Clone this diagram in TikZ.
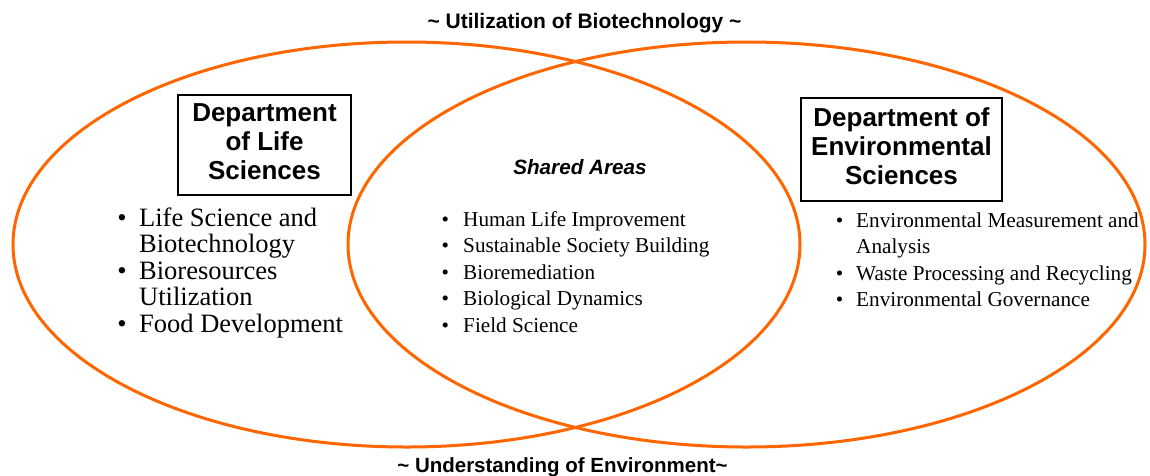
\documentclass[tikz,border=0pt]{standalone}
\usepackage{fontspec}
\setmainfont{Liberation Serif}
\newfontfamily\arialfont{Liberation Sans}
\definecolor{vennorange}{RGB}{255,102,0}
\begin{document}
\begin{tikzpicture}[x=1pt,y=-1pt,
  ring/.style={draw=vennorange,line width=3pt},
  deptbox/.style={draw=black,line width=1.5pt,inner sep=0pt,
    font=\arialfont\bfseries\fontsize{26}{29}\selectfont},
  caption/.style={anchor=base,inner sep=0pt,
    font=\arialfont\bfseries\fontsize{20.5}{24}\selectfont},
  biglist/.style={anchor=base west,inner sep=0pt,
    font=\fontsize{26.5}{26.5}\selectfont},
  smalllist/.style={anchor=base west,inner sep=0pt,
    font=\fontsize{21.2}{26.5}\selectfont}]
\useasboundingbox (0,0) rectangle (1150,475);
\draw[ring] (406.5,244.5) ellipse [x radius=393.5, y radius=202.5];
\draw[ring] (746.5,244.5) ellipse [x radius=398.5, y radius=202.5];

\node[caption,font=\arialfont\bfseries\fontsize{21}{24}\selectfont] (top) at (584.5,28) {\textasciitilde{} Utilization of Biotechnology \textasciitilde};
\node[caption] (bottom) at (562.5,472.5) {\textasciitilde{} Understanding of Environment\textasciitilde};
\node[caption,font=\arialfont\bfseries\itshape\fontsize{20.7}{24}\selectfont] (shared) at (580,174) {Shared Areas};

\node[deptbox,minimum width=173pt,minimum height=100pt] (life) at (264.5,145)
  {\begin{tabular}{@{}c@{}}Department\\of Life\\Sciences\end{tabular}};
\node[deptbox,minimum width=201pt,minimum height=103pt] (env) at (901.5,149.5)
  {\begin{tabular}{@{}c@{}}Department of\\Environmental\\Sciences\end{tabular}};

\node[biglist] (lifelist) at (117.2,226)
  {\begin{tabular}[t]{@{}r@{\hspace{12.5pt}}l@{}}
   \textbullet & Life Science and\\
               & Biotechnology\\
   \textbullet & Bioresources\\
               & Utilization\\
   \textbullet & Food Development
   \end{tabular}};
\node[smalllist] (sharedlist) at (441.3,226)
  {\begin{tabular}[t]{@{}r@{\hspace{14.3pt}}l@{}}
   \textbullet & Human Life Improvement\\
   \textbullet & Sustainable Society Building\\
   \textbullet & Bioremediation\\
   \textbullet & Biological Dynamics\\
   \textbullet & Field Science
   \end{tabular}};
\node[smalllist] (envlist) at (835.6,227)
  {\begin{tabular}[t]{@{}r@{\hspace{13pt}}l@{}}
   \textbullet & Environmental Measurement and\\
               & Analysis\\
   \textbullet & Waste Processing and Recycling\\
   \textbullet & Environmental Governance
   \end{tabular}};
\end{tikzpicture}
\end{document}
